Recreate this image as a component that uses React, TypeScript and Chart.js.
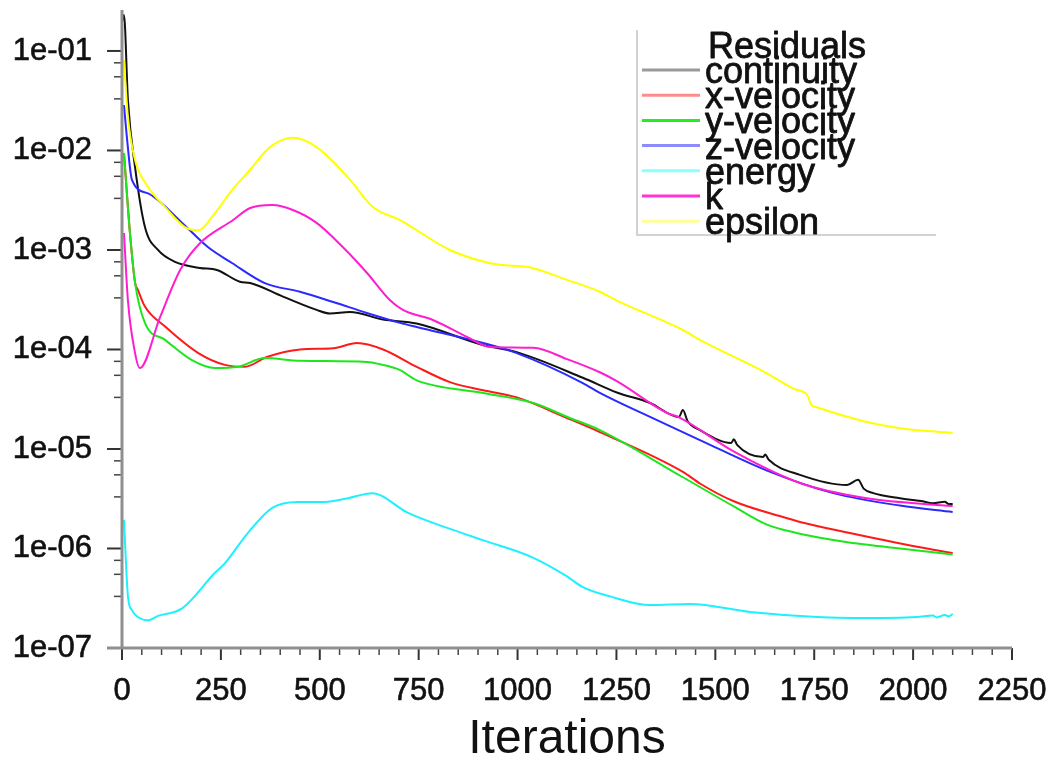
import React, { useEffect, useRef } from 'react';
import { Chart, registerables } from 'chart.js';

Chart.register(...registerables);

const FONT = '"Liberation Sans", Arial, sans-serif';

const seriesLabels = ['continuity', 'x-velocity', 'y-velocity', 'z-velocity', 'energy', 'k', 'epsilon'];
const lineColors = ['#111111', '#ff1a1a', '#1ee61e', '#2a2aff', '#1ff0ff', '#ff1ecf', '#ffff00'];
const legendColors = ['#9a9a9a', '#ff8c8c', '#22ee22', '#8c8cff', '#8cffff', '#ff33d6', '#ffff99'];

const xTicks = [0, 250, 500, 750, 1000, 1250, 1500, 1750, 2000, 2250];
const yTicks = [1e-7, 1e-6, 1e-5, 1e-4, 1e-3, 1e-2, 1e-1];
const yTickLabels = ['1e-07', '1e-06', '1e-05', '1e-04', '1e-03', '1e-02', '1e-01'];

const continuityIt = [1, 5, 15, 33, 58, 91, 134, 197, 240, 298, 324, 407, 492, 526, 576, 660, 745, 912, 998, 1165, 1251, 1335, 1408, 1418, 1430, 1461, 1540, 1547, 1555, 1621, 1626, 1635, 1714, 1833, 1861, 1875, 1899, 1967, 2020, 2050, 2080, 2090, 2100];
const continuityRes = [0.2, 0.23, 0.032, 6.8e-3, 1.7e-3, 1.0e-3, 7.6e-4, 6.6e-4, 6.3e-4, 4.8e-4, 4.66e-4, 3.4e-4, 2.5e-4, 2.3e-4, 2.38e-4, 2.0e-4, 1.82e-4, 1.11e-4, 9.4e-5, 5.2e-5, 3.7e-5, 2.9e-5, 2.1e-5, 2.46e-5, 1.9e-5, 1.55e-5, 1.15e-5, 1.25e-5, 1.1e-5, 8.3e-6, 8.8e-6, 7.8e-6, 5.5e-6, 4.35e-6, 4.9e-6, 4.0e-6, 3.6e-6, 3.2e-6, 3.0e-6, 2.85e-6, 2.95e-6, 2.8e-6, 2.8e-6];

const xVelIt = [5, 20, 33, 40, 58, 109, 193, 260, 311, 366, 450, 534, 594, 660, 745, 829, 913, 998, 1125, 1208, 1418, 1461, 1545, 1671, 1714, 1840, 2010, 2100];
const xVelRes = [9.4e-3, 1.5e-3, 4.7e-4, 4.0e-4, 2.7e-4, 1.7e-4, 9.2e-5, 7.0e-5, 6.7e-5, 8.4e-5, 1.0e-4, 1.03e-4, 1.16e-4, 1.0e-4, 6.7e-5, 4.7e-5, 3.9e-5, 3.3e-5, 2.05e-5, 1.48e-5, 5.9e-6, 4.5e-6, 3.0e-6, 2.07e-6, 1.85e-6, 1.43e-6, 1.04e-6, 9.0e-7];

const yVelIt = [5, 20, 33, 58, 109, 177, 235, 293, 361, 450, 619, 660, 703, 745, 913, 1040, 1132, 1208, 1418, 1550, 1629, 1700, 1798, 1900, 1967, 2100];
const yVelRes = [9.4e-3, 1.5e-3, 4.7e-4, 1.85e-4, 1.25e-4, 7.8e-5, 6.5e-5, 6.7e-5, 8.2e-5, 7.7e-5, 7.5e-5, 7.0e-5, 6.2e-5, 4.9e-5, 3.66e-5, 2.9e-5, 2.05e-5, 1.55e-5, 5.2e-6, 2.6e-6, 1.75e-6, 1.45e-6, 1.22e-6, 1.07e-6, 1.0e-6, 8.7e-7];

const zVelIt = [5, 13, 25, 66, 152, 217, 278, 361, 450, 534, 619, 703, 745, 913, 998, 1165, 1208, 1335, 1461, 1629, 1798, 1967, 2100];
const zVelRes = [0.0286, 0.0128, 5.1e-3, 3.7e-3, 1.87e-3, 1.07e-3, 7.4e-4, 4.65e-4, 3.8e-4, 3.0e-4, 2.33e-4, 1.85e-4, 1.68e-4, 1.16e-4, 9.2e-5, 4.6e-5, 3.66e-5, 2.1e-5, 1.23e-5, 6.1e-6, 3.6e-6, 2.7e-6, 2.33e-6];

const energyIt = [5, 15, 25, 40, 66, 91, 152, 235, 260, 318, 379, 445, 513, 571, 632, 723, 824, 910, 1036, 1120, 1165, 1234, 1335, 1436, 1588, 1757, 1924, 2010, 2050, 2060, 2080, 2090, 2100];
const energyRes = [1.93e-6, 3.3e-7, 2.4e-7, 2.05e-7, 1.9e-7, 2.1e-7, 2.5e-7, 5.7e-7, 7.1e-7, 1.43e-6, 2.55e-6, 2.93e-6, 2.93e-6, 3.2e-6, 3.6e-6, 2.28e-6, 1.6e-6, 1.22e-6, 8.2e-7, 5.4e-7, 4.1e-7, 3.3e-7, 2.7e-7, 2.77e-7, 2.3e-7, 2.05e-7, 2.0e-7, 2.05e-7, 2.12e-7, 2.03e-7, 2.15e-7, 2.08e-7, 2.2e-7];

const kIt = [5, 15, 33, 45, 96, 147, 197, 281, 324, 380, 432, 492, 558, 619, 677, 710, 786, 872, 930, 1040, 1125, 1208, 1251, 1378, 1406, 1545, 1714, 1883, 2100];
const kRes = [1.48e-3, 3.1e-4, 9.2e-5, 6.5e-5, 2.1e-4, 6.3e-4, 1.17e-3, 2.0e-3, 2.64e-3, 2.83e-3, 2.52e-3, 1.87e-3, 1.07e-3, 5.9e-4, 3.14e-4, 2.5e-4, 1.98e-4, 1.34e-4, 1.06e-4, 1.04e-4, 8.0e-5, 5.9e-5, 4.8e-5, 2.3e-5, 2.1e-5, 9.5e-6, 4.55e-6, 3.2e-6, 2.67e-6];

const epsilonIt = [5, 15, 33, 66, 109, 159, 193, 235, 278, 324, 374, 432, 492, 576, 634, 703, 829, 955, 1023, 1125, 1208, 1251, 1418, 1461, 1629, 1700, 1733, 1742, 1760, 1883, 1967, 2100];
const epsilonRes = [0.081, 0.0217, 8.0e-3, 4.3e-3, 2.7e-3, 1.7e-3, 1.58e-3, 2.35e-3, 4.0e-3, 6.4e-3, 0.0108, 0.0134, 0.0108, 5.1e-3, 2.7e-3, 2.0e-3, 1.0e-3, 7.1e-4, 6.8e-4, 5.0e-4, 3.8e-4, 3.1e-4, 1.57e-4, 1.25e-4, 5.8e-5, 4.0e-5, 3.45e-5, 2.8e-5, 2.6e-5, 1.87e-5, 1.62e-5, 1.45e-5];

const seriesIts = [continuityIt, xVelIt, yVelIt, zVelIt, energyIt, kIt, epsilonIt];
const seriesRes = [continuityRes, xVelRes, yVelRes, zVelRes, energyRes, kRes, epsilonRes];

function toPoints(its: number[], vals: number[]) {
  return its.map((x, i) => ({ x, y: vals[i] }));
}

const axesPlugin = {
  id: 'fluentAxes',
  afterDatasetsDraw(chart: any) {
    const { ctx, chartArea, scales } = chart;
    const xs = scales.x;
    const ys = scales.y;
    ctx.save();
    ctx.strokeStyle = '#444';
    ctx.lineWidth = 1.5;
    for (const d of yTicks) {
      for (const f of [0.76, 0.55, 0.33]) {
        const v = d * f;
        if (v < ys.min) continue;
        const py = ys.getPixelForValue(v);
        ctx.beginPath();
        ctx.moveTo(chartArea.left - 8, py);
        ctx.lineTo(chartArea.left, py);
        ctx.stroke();
      }
    }
    ctx.strokeStyle = '#333';
    ctx.lineWidth = 2;
    for (const v of yTicks) {
      const py = ys.getPixelForValue(v);
      ctx.beginPath();
      ctx.moveTo(chartArea.left - 15, py);
      ctx.lineTo(chartArea.left, py);
      ctx.stroke();
    }
    for (let v = 0; v <= 2250; v += 50) {
      const major = v % 250 === 0;
      const px = xs.getPixelForValue(v);
      ctx.strokeStyle = major ? '#333' : '#444';
      ctx.lineWidth = major ? 2 : 1.5;
      ctx.beginPath();
      ctx.moveTo(px, chartArea.bottom);
      ctx.lineTo(px, chartArea.bottom + (major ? 12 : 7));
      ctx.stroke();
    }
    ctx.strokeStyle = '#8f8f8f';
    ctx.lineWidth = 3;
    ctx.beginPath();
    ctx.moveTo(chartArea.left, chartArea.top);
    ctx.lineTo(chartArea.left, chartArea.bottom);
    ctx.stroke();
    ctx.beginPath();
    ctx.moveTo(chartArea.left - 15, chartArea.bottom);
    ctx.lineTo(chartArea.right, chartArea.bottom);
    ctx.stroke();
    ctx.restore();
  },
};

const legendPlugin = {
  id: 'fluentLegend',
  afterDraw(chart: any) {
    const { ctx } = chart;
    const left = 637;
    const top = 30;
    const bottom = 235;
    const right = 936;
    const step = 25.2;
    const firstY = 70;
    ctx.save();
    ctx.strokeStyle = '#d2d2d2';
    ctx.lineWidth = 2;
    ctx.beginPath();
    ctx.moveTo(left, top);
    ctx.lineTo(left, bottom);
    ctx.lineTo(right, bottom);
    ctx.stroke();
    ctx.font = `36px ${FONT}`;
    ctx.textBaseline = 'alphabetic';
    ctx.textAlign = 'left';
    ctx.lineJoin = 'round';
    const txt = (s: string, x: number, y: number) => {
      ctx.fillStyle = '#111';
      ctx.strokeStyle = '#111';
      ctx.lineWidth = 0.8;
      ctx.fillText(s, x, y);
      ctx.strokeText(s, x, y);
    };
    txt('Residuals', 708, firstY - step + 13);
    chart.data.datasets.forEach((ds: any, i: number) => {
      const y = firstY + step * i;
      ctx.strokeStyle = legendColors[i];
      ctx.lineWidth = 3;
      ctx.beginPath();
      ctx.moveTo(642, y);
      ctx.lineTo(700, y);
      ctx.stroke();
      txt(ds.label, 705, y + 13);
    });
    ctx.restore();
  },
};

export default function App() {
  const canvasRef = useRef<HTMLCanvasElement | null>(null);

  useEffect(() => {
    document.body.style.margin = '0';
    const canvas = canvasRef.current;
    if (!canvas) return;
    const chart = new Chart(canvas, {
      type: 'line',
      data: {
        datasets: seriesLabels.map((label, i) => ({
          label,
          data: toPoints(seriesIts[i], seriesRes[i]),
          borderColor: lineColors[i],
          backgroundColor: lineColors[i],
          borderWidth: 2,
          pointRadius: 0,
          fill: false,
          cubicInterpolationMode: 'monotone' as const,
          order: seriesLabels.length - i,
        })),
      },
      options: {
        animation: false,
        responsive: false,
        maintainAspectRatio: false,
        layout: { padding: { top: 10, right: 41, bottom: 0, left: 0 } },
        plugins: {
          legend: { display: false },
          tooltip: { enabled: false },
        },
        scales: {
          x: {
            type: 'linear',
            min: 0,
            max: 2250,
            afterBuildTicks: (s: any) => {
              s.ticks = xTicks.map((v) => ({ value: v }));
            },
            afterFit: (s: any) => {
              s.height = 122;
              s.paddingLeft = 0;
              s.paddingRight = 0;
            },
            grid: { display: false, drawTicks: false },
            border: { display: false },
            ticks: {
              padding: 25,
              autoSkip: false,
              maxRotation: 0,
              color: '#111',
              textStrokeColor: '#111',
              textStrokeWidth: 0.6,
              font: { family: FONT, size: 31 },
              callback: (v: any) => String(v),
            },
            title: {
              display: true,
              text: 'Iterations',
              color: '#111',
              font: { family: FONT, size: 48 },
              padding: { top: 0, bottom: 1 },
            },
          },
          y: {
            type: 'logarithmic',
            min: 1e-7,
            max: 0.258,
            afterBuildTicks: (s: any) => {
              s.ticks = yTicks.map((v) => ({ value: v }));
            },
            afterFit: (s: any) => {
              s.width = 122;
              s.paddingTop = 0;
              s.paddingBottom = 0;
            },
            grid: { display: false, drawTicks: false },
            border: { display: false },
            ticks: {
              padding: 30,
              autoSkip: false,
              color: '#111',
              textStrokeColor: '#111',
              textStrokeWidth: 0.6,
              font: { family: FONT, size: 31 },
              callback: (_v: any, i: number) => yTickLabels[i],
            },
          },
        },
      },
      plugins: [axesPlugin, legendPlugin],
    } as any);
    return () => chart.destroy();
  }, []);

  return (
    <div style={{ width: 1053, height: 770, background: '#fff' }}>
      <canvas ref={canvasRef} width={1053} height={770} style={{ display: 'block', width: 1053, height: 770 }} />
    </div>
  );
}
